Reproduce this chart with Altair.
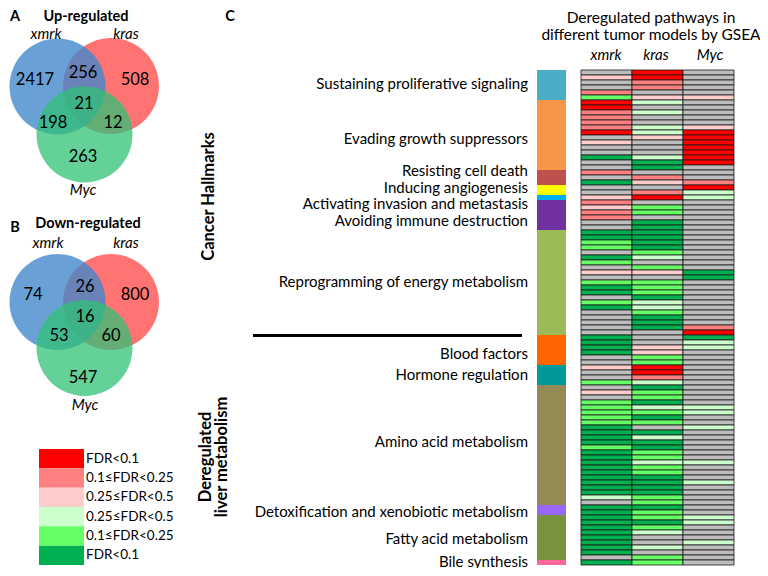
import altair as alt
import pandas as pd

FONT = "Lato"

# ---------------- data ----------------
# Venn counts (region order: only-xmrk, xmrk&kras, only-kras, all, xmrk&Myc, kras&Myc, only-Myc)
venn_regions = ["xmrk", "xmrk_kras", "kras", "all", "xmrk_Myc", "kras_Myc", "Myc"]
up_counts = [2417, 256, 508, 21, 198, 12, 263]
down_counts = [74, 26, 800, 16, 53, 60, 547]

models = ["xmrk", "kras", "Myc"]

# FDR classes: R/P/L = up-regulated, l/g/G = down-regulated, N = not significant
level_codes = ["R", "P", "L", "l", "g", "G"]
level_labels = ["FDR<0.1", "0.1\u2264FDR<0.25", "0.25\u2264FDR<0.5",
                "0.25\u2264FDR<0.5", "0.1\u2264FDR<0.25", "FDR<0.1"]
level_colors = {"R": "#FF0000", "P": "#FF8080", "L": "#FFCCCC",
                "l": "#CCFFCC", "g": "#66FF66", "G": "#00B050", "N": "#BDBDBD"}

categories = ["Sustaining proliferative signaling", "Evading growth suppressors",
              "Resisting cell death", "Inducing angiogenesis",
              "Activating invasion and metastasis", "Avoiding immune destruction",
              "Reprogramming of energy metabolism", "Blood factors",
              "Hormone regulation", "Amino acid metabolism",
              "Detoxification and xenobiotic metabolism", "Fatty acid metabolism",
              "Bile synthesis"]
category_rows = [6, 14, 3, 2, 1, 6, 21, 6, 4, 24, 2, 9, 1]
category_colors = ["#4BACC6", "#F79646", "#C0504D", "#FFFF00", "#00B0F0", "#7030A0",
                   "#9BBB59", "#FF6600", "#009999", "#948A54", "#9966FF", "#77933C",
                   "#FF6699"]

xmrk_cells = ("NLNNPgRRPP" "PPRNLNNGNN" "PNGNNLPLPP" "NNGGggNGgN" "LNgGGNgGNN"
              "NNNGGGGNNL" "NNgNLNgggg" "gGGGGgGGGG" "GGGGGlNGGG" "GGGGGGGNG")
kras_cells = ("RRPPNLlNlN" "NllLNNNlGG" "NPLNPRNggN" "GGGGGGglNg" "LNgggGllgG"
              "GGNNNLLggR" "RPlGggGlgG" "gNGlGGgglg" "gGGGGggGgg" "GglNNlNgg")
myc_cells = ("NNNNNLNNNN" "NLRRRRRRRN" "NNPRllNNNN" "NNNNNNNNNN" "GGNNNNNNNN"
             "NPRGllNNNN" "NNNNNNNllN" "NlNNNNNNlN" "NNlNNNNNNl" "lNNNlNNNN")

# ---------------- layout (image pixel coordinates) ----------------
px_x = alt.Scale(domain=[8, 760], range=[0, 752])
px_y = alt.Scale(domain=[8, 568], range=[0, 560])

venn_num_pos_up = [(35, 80), (83, 73), (135, 80), (84, 104), (53, 123), (113, 123), (83, 157)]
venn_num_pos_down = [(33, 295), (85, 287), (135, 295), (85, 317), (59, 336), (111, 336), (83, 378)]
circle_layout = [  # (set, x, y, radius, colour, opacity) blue, red, green
    ("xmrk", 57.5, 86.5, 48, "#3F86CC", 0.78),
    ("kras", 111, 86, 48, "#FF5A5A", 0.85),
    ("Myc", 84.5, 134.5, 48, "#30C275", 0.75),
]
down_dy = [215.5, 216, 213.5]

label_y = [84, 139, 171, 187.5, 204, 221, 281.5, 354.2, 374.8, 442, 511.8, 539.3, 561.5]

# ---------------- tables ----------------
circ_rows = []
for dy_list, tag in [([0, 0, 0], "A"), (down_dy, "B")]:
    for idx in [1, 0, 2]:  # red first, then blue, then green
        name, cx, cy, r, col, op = circle_layout[idx]
        circ_rows.append({"x": cx, "y": cy + dy_list[idx], "s": (2 * r) ** 2,
                          "c": col, "o": op, "set": name, "venn": tag})
circ_df = pd.DataFrame(circ_rows)
circ_df["order"] = range(len(circ_df))

num_rows = []
for counts, pos in [(up_counts, venn_num_pos_up), (down_counts, venn_num_pos_down)]:
    for reg, n, (x, y) in zip(venn_regions, counts, pos):
        num_rows.append({"x": x, "y": y, "t": str(n), "region": reg})
num_df = pd.DataFrame(num_rows)

heat_rows = []
for m, cells in zip(models, [xmrk_cells, kras_cells, myc_cells]):
    for i, code in enumerate(cells):
        heat_rows.append({"model": m, "row": i, "code": code, "c": level_colors[code]})
heat_df = pd.DataFrame(heat_rows)

starts = []
acc = 0
for n in category_rows:
    starts.append(acc)
    acc += n
cat_df = pd.DataFrame({"cat": categories, "start": starts,
                       "end": [s + n for s, n in zip(starts, category_rows)],
                       "c": category_colors})
total_rows = acc

legend_df = pd.DataFrame({"code": level_codes, "label": level_labels,
                          "c": [level_colors[k] for k in level_codes]})

# ---------------- layers ----------------
def px_text(df, size, weight="normal", style="normal", align="center", angle=0):
    return alt.Chart(df).mark_text(
        font=FONT, fontSize=size, fontWeight=weight, fontStyle=style,
        align=align, baseline="middle", angle=angle, color="black"
    ).encode(x=alt.X("x:Q", scale=px_x, axis=None),
             y=alt.Y("y:Q", scale=px_y, axis=None),
             text="t:N")

circles = alt.Chart(circ_df).mark_circle(strokeWidth=0).encode(
    x=alt.X("x:Q", scale=px_x, axis=None),
    y=alt.Y("y:Q", scale=px_y, axis=None),
    size=alt.Size("s:Q", scale=None),
    color=alt.Color("c:N", scale=None),
    opacity=alt.Opacity("o:Q", scale=None),
    order=alt.Order("order:Q"),
)

numbers = px_text(num_df, 16.5)

bold_df = pd.DataFrame([
    {"x": 15, "y": 17, "t": "A"}, {"x": 86, "y": 17, "t": "Up-regulated"},
    {"x": 15, "y": 228, "t": "B"}, {"x": 88, "y": 224, "t": "Down-regulated"},
    {"x": 230, "y": 17, "t": "C"},
])
bold_txt = px_text(bold_df, 14.5, weight="bold")

ital_df = pd.DataFrame([
    {"x": 46, "y": 33.5, "t": "xmrk"}, {"x": 126, "y": 33.5, "t": "kras"}, {"x": 83, "y": 190, "t": "Myc"},
    {"x": 48, "y": 243, "t": "xmrk"}, {"x": 126, "y": 243, "t": "kras"}, {"x": 85, "y": 405, "t": "Myc"},
    {"x": 606, "y": 55, "t": "xmrk"}, {"x": 656, "y": 55, "t": "kras"}, {"x": 710, "y": 55, "t": "Myc"},
])
ital_txt = px_text(ital_df, 15, style="italic")

title_df = pd.DataFrame([
    {"x": 651, "y": 18, "t": "Deregulated pathways in"},
    {"x": 651, "y": 35, "t": "different tumor models by GSEA"},
])
title_txt = px_text(title_df, 15.5)

cat_label_df = pd.DataFrame({"x": [528] * len(categories), "y": label_y, "t": categories})
cat_labels = px_text(cat_label_df, 15, align="right")

section_df1 = pd.DataFrame([{"x": 209, "y": 196.5, "t": "Cancer Hallmarks"},
                            {"x": 206, "y": 457, "t": "Deregulated"},
                            {"x": 222, "y": 457, "t": "liver metabolism"}])
section_txt = px_text(section_df1, 16.5, weight="bold", angle=270)

rule_df = pd.DataFrame([{"x": 253, "x2": 522, "y": 335.5}])
divider = alt.Chart(rule_df).mark_rule(color="black", strokeWidth=3).encode(
    x=alt.X("x:Q", scale=px_x, axis=None), x2="x2:Q",
    y=alt.Y("y:Q", scale=px_y, axis=None))

heat = alt.Chart(heat_df).mark_rect(stroke="#1a1a1a", strokeWidth=0.8).encode(
    x=alt.X("model:N", scale=alt.Scale(domain=models, range=[573, 726],
                                        paddingInner=0, paddingOuter=0), axis=None),
    y=alt.Y("row:O", scale=alt.Scale(domain=list(range(total_rows)), range=[62, 557],
                                      paddingInner=0, paddingOuter=0), axis=None),
    color=alt.Color("c:N", scale=None),
)

cat_bar = alt.Chart(cat_df).mark_rect().encode(
    x=alt.value(529), x2=alt.value(558),
    y=alt.Y("start:Q", scale=alt.Scale(domain=[0, total_rows], range=[62, 557]), axis=None),
    y2="end:Q",
    color=alt.Color("c:N", scale=None),
)

legend_boxes = alt.Chart(legend_df).mark_rect().encode(
    x=alt.value(31), x2=alt.value(76),
    y=alt.Y("code:N", scale=alt.Scale(domain=level_codes, range=[441, 557],
                                       paddingInner=0, paddingOuter=0), axis=None),
    color=alt.Color("c:N", scale=None),
)
legend_text = alt.Chart(legend_df).mark_text(
    font=FONT, fontSize=13.5, align="left", baseline="middle", color="black"
).encode(
    x=alt.value(78),
    y=alt.Y("code:N", scale=alt.Scale(domain=level_codes, range=[441, 557],
                                       paddingInner=0, paddingOuter=0),
            axis=None, bandPosition=0.5),
    text="label:N",
)

chart = alt.layer(
    circles, numbers, bold_txt, ital_txt, title_txt, cat_labels, section_txt,
    divider, cat_bar, heat, legend_boxes, legend_text
).resolve_scale(
    x="independent", y="independent"
).properties(
    width=752, height=560, padding=0, autosize="none", background="white"
).configure_view(stroke=None)

chart.save("out.html", embed_options={"renderer": "svg", "actions": False})
